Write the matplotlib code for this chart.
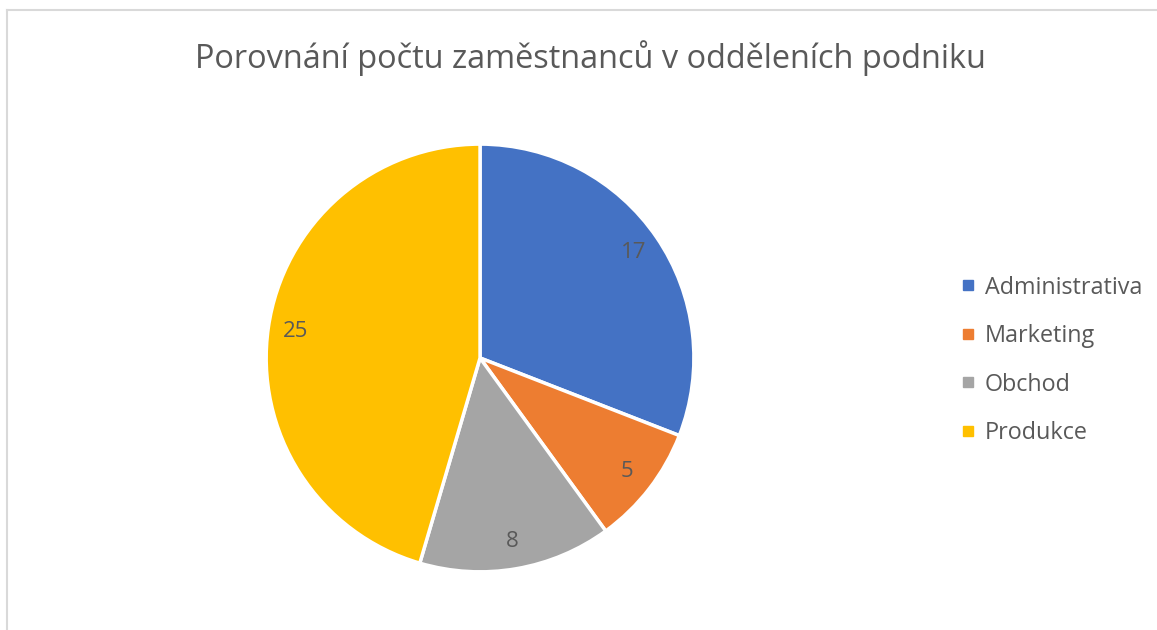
import matplotlib.pyplot as plt
from matplotlib.lines import Line2D

# data
departments = ['Administrativa', 'Marketing', 'Obchod', 'Produkce']
employees = [17, 5, 8, 25]
colors = ['#4472C4', '#ED7D31', '#A5A5A5', '#FFC000']
title = 'Porovnání počtu zaměstnanců v odděleních podniku'

plt.rcParams['font.family'] = ['Open Sans', 'DejaVu Sans']
text_color = '#595959'

fig = plt.figure(figsize=(11.57, 6.3), dpi=100)

# chart area border (only top/left visible in the reference)
fig.add_artist(Line2D([7 / 1157, 7 / 1157], [0, 1 - 10 / 630], color='#D9D9D9', lw=1.5))
fig.add_artist(Line2D([7 / 1157, 1], [1 - 10 / 630, 1 - 10 / 630], color='#D9D9D9', lw=1.5))

ax = fig.add_axes([0.2308, 0.0937, 0.3682, 0.6762])
total = sum(employees)
wedges, texts, autotexts = ax.pie(
    employees, colors=colors, startangle=90, counterclock=False,
    autopct=lambda p: f'{round(p * total / 100):d}', pctdistance=0.87,
    wedgeprops=dict(edgecolor='white', linewidth=2.5),
    textprops=dict(color=text_color, fontsize=16))
ax.set_xlim(-0.996, 0.996)
ax.set_ylim(-0.996, 0.996)
ax.set_aspect('equal')

fig.text(0.51, 0.908, title, ha='center', va='center', fontsize=23.4, color=text_color)

handles = [Line2D([], [], marker='s', linestyle='none', markersize=6.5,
                  markerfacecolor=c, markeredgecolor=c) for c in colors]
leg = fig.legend(handles, departments, loc='center left', bbox_to_anchor=(0.8286, 0.428),
                 frameon=False, fontsize=16.8, labelspacing=1.05, handletextpad=0.33,
                 handlelength=0.8, borderpad=0, borderaxespad=0)
for t in leg.get_texts():
    t.set_color(text_color)

fig.savefig('out.png', dpi=100)
